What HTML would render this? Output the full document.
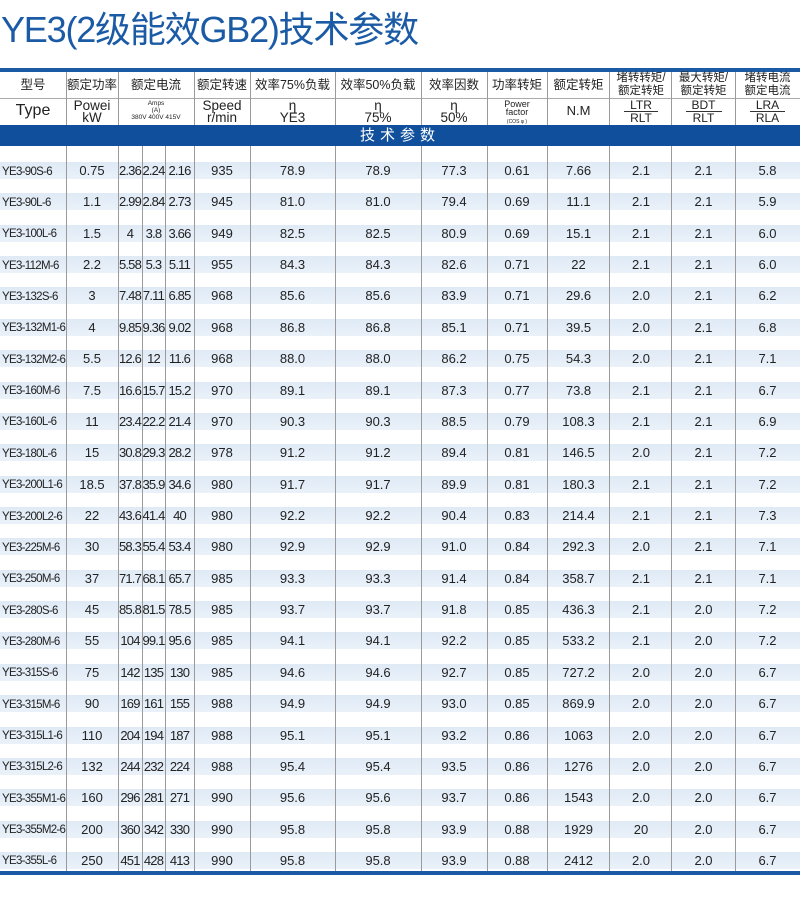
<!DOCTYPE html>
<html><head><meta charset="utf-8"><style>
*{margin:0;padding:0;box-sizing:border-box}
body{width:800px;height:904px;background:#fff;position:relative;overflow:hidden;font-family:"Liberation Sans","Noto Sans CJK SC",sans-serif;color:#222}
.t{position:absolute;left:1px;top:8px;font-size:36px;color:#1b5ba6;letter-spacing:-1.2px;line-height:44px}
.ab{position:absolute}
.vl{position:absolute;width:1px;background:#9a9a9a}
.r{position:absolute;left:0;width:800px;height:17px;background:linear-gradient(#dfeaf6,#eaf1f9);display:flex;align-items:center;font-size:13px;line-height:17px}
.r span{display:block;text-align:center;white-space:nowrap}
.r span:nth-child(1){width:66px;font-size:11.5px;letter-spacing:-0.7px;text-align:left;padding-left:2px;position:relative;top:1.5px}
.r span:nth-child(2){width:52px}
.r span:nth-child(3){width:24px;letter-spacing:-0.8px}
.r span:nth-child(4){width:23px;letter-spacing:-0.8px}
.r span:nth-child(5){width:29px;letter-spacing:-0.8px}
.r span:nth-child(6){width:56px}
.r span:nth-child(7){width:85px}
.r span:nth-child(8){width:86px}
.r span:nth-child(9){width:66px}
.r span:nth-child(10){width:60px}
.r span:nth-child(11){width:63px}
.r span:nth-child(12){width:62px}
.r span:nth-child(13){width:63px}
.r span:nth-child(14){width:65px}
.h{position:absolute;text-align:center;font-size:12.5px;line-height:14px;color:#222}
</style></head><body>
<div class="t">YE3(2级能效GB2)技术参数</div>
<div class="ab" style="left:0;top:68px;width:800px;height:4px;background:#1b5ba6"></div>
<div class="ab" style="left:0;top:98px;width:800px;height:1px;background:#aaa"></div>
<div class="ab" style="left:0;top:125px;width:800px;height:21px;background:#0f4f9c"></div>
<div class="ab" style="left:300px;top:125px;width:200px;height:21px;color:#fff;font-size:15px;line-height:21px;text-align:center;letter-spacing:5px">技术参数</div>
<div class="ab" style="left:0;top:871px;width:800px;height:4px;background:#1b5ba6"></div>

<!-- header row 1 -->
<div class="h" style="left:0;top:78px;width:66px">型号</div>
<div class="h" style="left:66px;top:78px;width:52px">额定功率</div>
<div class="h" style="left:118px;top:78px;width:76px">额定电流</div>
<div class="h" style="left:194px;top:78px;width:56px">额定转速</div>
<div class="h" style="left:250px;top:78px;width:85px">效率75%负载</div>
<div class="h" style="left:335px;top:78px;width:86px">效率50%负载</div>
<div class="h" style="left:421px;top:78px;width:66px">效率因数</div>
<div class="h" style="left:487px;top:78px;width:60px">功率转矩</div>
<div class="h" style="left:547px;top:78px;width:63px">额定转矩</div>
<div class="h" style="left:610px;top:72px;width:62px;font-size:11.5px;line-height:13px">堵转转矩/<br>额定转矩</div>
<div class="h" style="left:672px;top:72px;width:63px;font-size:11.5px;line-height:13px">最大转矩/<br>额定转矩</div>
<div class="h" style="left:735px;top:72px;width:65px;font-size:11.5px;line-height:13px">堵转电流<br>额定电流</div>
<!-- header row 2 -->
<div class="h" style="left:0;top:102px;width:66px;font-size:16px;line-height:18px">Type</div>
<div class="h" style="left:66px;top:100px;width:52px;font-size:13.5px;line-height:12px">Powei<br>kW</div>
<div class="h" style="left:118px;top:100px;width:76px;font-size:6.5px;line-height:7px">Amps<br>(A)<br>380V 400V 415V</div>
<div class="h" style="left:194px;top:100px;width:56px;font-size:13.5px;line-height:12px">Speed<br>r/min</div>
<div class="h" style="left:250px;top:100px;width:85px;font-size:13.5px;line-height:12px">η<br>YE3</div>
<div class="h" style="left:335px;top:100px;width:86px;font-size:13.5px;line-height:12px">η<br>75%</div>
<div class="h" style="left:421px;top:100px;width:66px;font-size:13.5px;line-height:12px">η<br>50%</div>
<div class="h" style="left:487px;top:100px;width:60px;font-size:9px;line-height:8px">Power<br>factor<br><span style="font-size:5px">(COS φ )</span></div>
<div class="h" style="left:547px;top:104px;width:63px;font-size:13px">N.M</div>
<div class="h" style="left:610px;top:99px;width:62px;font-size:12px;line-height:12px"><span style="display:inline-block;border-bottom:1px solid #333;padding:0 6px;line-height:12px">LTR</span><br>RLT</div>
<div class="h" style="left:672px;top:99px;width:63px;font-size:12px;line-height:12px"><span style="display:inline-block;border-bottom:1px solid #333;padding:0 6px;line-height:12px">BDT</span><br>RLT</div>
<div class="h" style="left:735px;top:99px;width:65px;font-size:12px;line-height:12px"><span style="display:inline-block;border-bottom:1px solid #333;padding:0 6px;line-height:12px">LRA</span><br>RLA</div>

<!-- rows -->
<div class="r" style="top:162px"><span>YE3-90S-6</span><span>0.75</span><span>2.36</span><span>2.24</span><span>2.16</span><span>935</span><span>78.9</span><span>78.9</span><span>77.3</span><span>0.61</span><span>7.66</span><span>2.1</span><span>2.1</span><span>5.8</span></div>
<div class="r" style="top:193.4px"><span>YE3-90L-6</span><span>1.1</span><span>2.99</span><span>2.84</span><span>2.73</span><span>945</span><span>81.0</span><span>81.0</span><span>79.4</span><span>0.69</span><span>11.1</span><span>2.1</span><span>2.1</span><span>5.9</span></div>
<div class="r" style="top:224.7px"><span>YE3-100L-6</span><span>1.5</span><span>4</span><span>3.8</span><span>3.66</span><span>949</span><span>82.5</span><span>82.5</span><span>80.9</span><span>0.69</span><span>15.1</span><span>2.1</span><span>2.1</span><span>6.0</span></div>
<div class="r" style="top:256.1px"><span>YE3-112M-6</span><span>2.2</span><span>5.58</span><span>5.3</span><span>5.11</span><span>955</span><span>84.3</span><span>84.3</span><span>82.6</span><span>0.71</span><span>22</span><span>2.1</span><span>2.1</span><span>6.0</span></div>
<div class="r" style="top:287.4px"><span>YE3-132S-6</span><span>3</span><span>7.48</span><span>7.11</span><span>6.85</span><span>968</span><span>85.6</span><span>85.6</span><span>83.9</span><span>0.71</span><span>29.6</span><span>2.0</span><span>2.1</span><span>6.2</span></div>
<div class="r" style="top:318.8px"><span>YE3-132M1-6</span><span>4</span><span>9.85</span><span>9.36</span><span>9.02</span><span>968</span><span>86.8</span><span>86.8</span><span>85.1</span><span>0.71</span><span>39.5</span><span>2.0</span><span>2.1</span><span>6.8</span></div>
<div class="r" style="top:350.2px"><span>YE3-132M2-6</span><span>5.5</span><span>12.6</span><span>12</span><span>11.6</span><span>968</span><span>88.0</span><span>88.0</span><span>86.2</span><span>0.75</span><span>54.3</span><span>2.0</span><span>2.1</span><span>7.1</span></div>
<div class="r" style="top:381.5px"><span>YE3-160M-6</span><span>7.5</span><span>16.6</span><span>15.7</span><span>15.2</span><span>970</span><span>89.1</span><span>89.1</span><span>87.3</span><span>0.77</span><span>73.8</span><span>2.1</span><span>2.1</span><span>6.7</span></div>
<div class="r" style="top:412.9px"><span>YE3-160L-6</span><span>11</span><span>23.4</span><span>22.2</span><span>21.4</span><span>970</span><span>90.3</span><span>90.3</span><span>88.5</span><span>0.79</span><span>108.3</span><span>2.1</span><span>2.1</span><span>6.9</span></div>
<div class="r" style="top:444.2px"><span>YE3-180L-6</span><span>15</span><span>30.8</span><span>29.3</span><span>28.2</span><span>978</span><span>91.2</span><span>91.2</span><span>89.4</span><span>0.81</span><span>146.5</span><span>2.0</span><span>2.1</span><span>7.2</span></div>
<div class="r" style="top:475.6px"><span>YE3-200L1-6</span><span>18.5</span><span>37.8</span><span>35.9</span><span>34.6</span><span>980</span><span>91.7</span><span>91.7</span><span>89.9</span><span>0.81</span><span>180.3</span><span>2.1</span><span>2.1</span><span>7.2</span></div>
<div class="r" style="top:507px"><span>YE3-200L2-6</span><span>22</span><span>43.6</span><span>41.4</span><span>40</span><span>980</span><span>92.2</span><span>92.2</span><span>90.4</span><span>0.83</span><span>214.4</span><span>2.1</span><span>2.1</span><span>7.3</span></div>
<div class="r" style="top:538.3px"><span>YE3-225M-6</span><span>30</span><span>58.3</span><span>55.4</span><span>53.4</span><span>980</span><span>92.9</span><span>92.9</span><span>91.0</span><span>0.84</span><span>292.3</span><span>2.0</span><span>2.1</span><span>7.1</span></div>
<div class="r" style="top:569.7px"><span>YE3-250M-6</span><span>37</span><span>71.7</span><span>68.1</span><span>65.7</span><span>985</span><span>93.3</span><span>93.3</span><span>91.4</span><span>0.84</span><span>358.7</span><span>2.1</span><span>2.1</span><span>7.1</span></div>
<div class="r" style="top:601px"><span>YE3-280S-6</span><span>45</span><span>85.8</span><span>81.5</span><span>78.5</span><span>985</span><span>93.7</span><span>93.7</span><span>91.8</span><span>0.85</span><span>436.3</span><span>2.1</span><span>2.0</span><span>7.2</span></div>
<div class="r" style="top:632.4px"><span>YE3-280M-6</span><span>55</span><span>104</span><span>99.1</span><span>95.6</span><span>985</span><span>94.1</span><span>94.1</span><span>92.2</span><span>0.85</span><span>533.2</span><span>2.1</span><span>2.0</span><span>7.2</span></div>
<div class="r" style="top:663.8px"><span>YE3-315S-6</span><span>75</span><span>142</span><span>135</span><span>130</span><span>985</span><span>94.6</span><span>94.6</span><span>92.7</span><span>0.85</span><span>727.2</span><span>2.0</span><span>2.0</span><span>6.7</span></div>
<div class="r" style="top:695.1px"><span>YE3-315M-6</span><span>90</span><span>169</span><span>161</span><span>155</span><span>988</span><span>94.9</span><span>94.9</span><span>93.0</span><span>0.85</span><span>869.9</span><span>2.0</span><span>2.0</span><span>6.7</span></div>
<div class="r" style="top:726.5px"><span>YE3-315L1-6</span><span>110</span><span>204</span><span>194</span><span>187</span><span>988</span><span>95.1</span><span>95.1</span><span>93.2</span><span>0.86</span><span>1063</span><span>2.0</span><span>2.0</span><span>6.7</span></div>
<div class="r" style="top:757.8px"><span>YE3-315L2-6</span><span>132</span><span>244</span><span>232</span><span>224</span><span>988</span><span>95.4</span><span>95.4</span><span>93.5</span><span>0.86</span><span>1276</span><span>2.0</span><span>2.0</span><span>6.7</span></div>
<div class="r" style="top:789.2px"><span>YE3-355M1-6</span><span>160</span><span>296</span><span>281</span><span>271</span><span>990</span><span>95.6</span><span>95.6</span><span>93.7</span><span>0.86</span><span>1543</span><span>2.0</span><span>2.0</span><span>6.7</span></div>
<div class="r" style="top:820.6px"><span>YE3-355M2-6</span><span>200</span><span>360</span><span>342</span><span>330</span><span>990</span><span>95.8</span><span>95.8</span><span>93.9</span><span>0.88</span><span>1929</span><span>20</span><span>2.0</span><span>6.7</span></div>
<div class="r" style="top:851.9px"><span>YE3-355L-6</span><span>250</span><span>451</span><span>428</span><span>413</span><span>990</span><span>95.8</span><span>95.8</span><span>93.9</span><span>0.88</span><span>2412</span><span>2.0</span><span>2.0</span><span>6.7</span></div>

<!-- vertical lines -->
<div class="vl" style="left:66px;top:72px;height:53px"></div><div class="vl" style="left:66px;top:146px;height:725px"></div>
<div class="vl" style="left:118px;top:72px;height:53px"></div><div class="vl" style="left:118px;top:146px;height:725px"></div>
<div class="vl" style="left:142px;top:146px;height:725px"></div>
<div class="vl" style="left:165px;top:146px;height:725px"></div>
<div class="vl" style="left:194px;top:72px;height:53px"></div><div class="vl" style="left:194px;top:146px;height:725px"></div>
<div class="vl" style="left:250px;top:72px;height:53px"></div><div class="vl" style="left:250px;top:146px;height:725px"></div>
<div class="vl" style="left:335px;top:72px;height:53px"></div><div class="vl" style="left:335px;top:146px;height:725px"></div>
<div class="vl" style="left:421px;top:72px;height:53px"></div><div class="vl" style="left:421px;top:146px;height:725px"></div>
<div class="vl" style="left:487px;top:72px;height:53px"></div><div class="vl" style="left:487px;top:146px;height:725px"></div>
<div class="vl" style="left:547px;top:72px;height:53px"></div><div class="vl" style="left:547px;top:146px;height:725px"></div>
<div class="vl" style="left:609px;top:72px;height:53px"></div><div class="vl" style="left:609px;top:146px;height:725px"></div>
<div class="vl" style="left:671px;top:72px;height:53px"></div><div class="vl" style="left:671px;top:146px;height:725px"></div>
<div class="vl" style="left:735px;top:72px;height:53px"></div><div class="vl" style="left:735px;top:146px;height:725px"></div>
</body></html>
